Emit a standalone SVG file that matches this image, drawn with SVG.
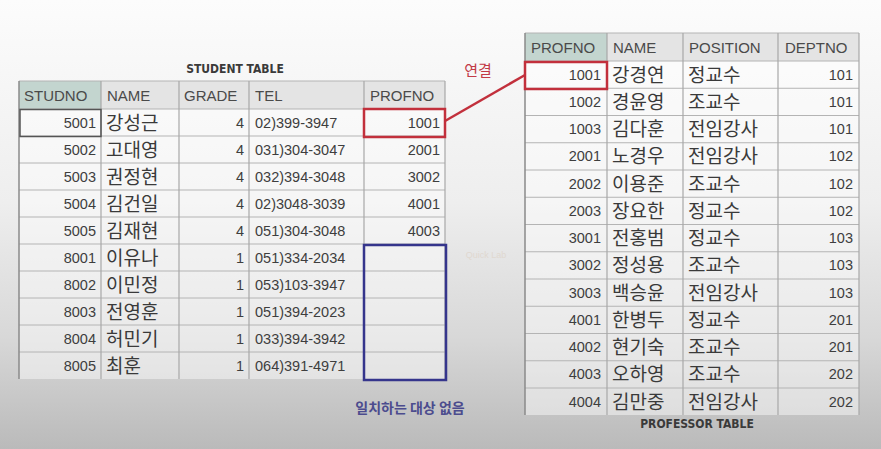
<svg xmlns="http://www.w3.org/2000/svg" width="881" height="449" viewBox="0 0 881 449">
<defs>
<linearGradient id="bg" x1="0" y1="0" x2="0" y2="1">
<stop offset="0" stop-color="#fcfcfc"/>
<stop offset="0.45" stop-color="#eeeeee"/>
<stop offset="0.75" stop-color="#d8d8d8"/>
<stop offset="1" stop-color="#bababa"/>
</linearGradient>
<style>
.cell{fill:#ffffff;fill-opacity:0.45}
.hd{fill:#e4e4e4}
.hdk{fill:#c3d5cf}
.gl{stroke:#b4b4b4;stroke-width:1;fill:none}
.gv{stroke:#a8a8a8;stroke-width:1.2;fill:none}
.edge{stroke:#8a8a8a;stroke-width:1.5;fill:none}
.h{font-family:"Liberation Sans",Arial,sans-serif;font-size:15px;fill:#4a4a4a}
.n{font-family:"Liberation Sans",Arial,sans-serif;font-size:14.5px;fill:#3e3e3e}
.nr{font-family:"Liberation Sans",Arial,sans-serif;font-size:14.5px;fill:#3e3e3e;text-anchor:end}
.k{font-family:"Noto Sans CJK KR","Noto Sans",sans-serif;font-size:19px;fill:#3a3a3a}
.title{font-family:"DejaVu Sans Condensed","Liberation Sans",sans-serif;font-weight:bold;font-size:12px;fill:#3a3a3a;text-anchor:middle}
.red{stroke:#c2303c;stroke-width:2.5;fill:none}
.blue{stroke:#35358c;stroke-width:2.5;fill:none}
</style>
</defs>
<rect x="0" y="0" width="881" height="449" fill="url(#bg)"/>

<g id="student-table">
<text class="title" x="235" y="73">STUDENT TABLE</text>
<rect class="cell" x="19" y="109" width="426" height="270"/>
<rect class="hdk" x="19" y="81" width="82" height="28"/>
<rect class="hd" x="101" y="81" width="344" height="28"/>
<path class="gl" d="M19 81H445M19 109H445M19 136H445M19 163H445M19 190H445M19 217H445M19 244H445M19 271H445M19 298H445M19 325H445M19 352H445"/>
<path class="gv" d="M101 81V379M179 81V379M249 81V379M364 81V379M445 81V379"/>
<path class="edge" d="M19 81V379"/>
<rect x="20" y="109.5" width="81" height="27" fill="none" stroke="#555" stroke-width="1.5"/>
<text class="h" x="24" y="100.5">STUDNO</text>
<text class="h" x="107" y="100.5">NAME</text>
<text class="h" x="184" y="100.5">GRADE</text>
<text class="h" x="255" y="100.5">TEL</text>
<text class="h" x="370" y="100.5">PROFNO</text>
<g class="nr">
<text x="96" y="127.5">5001</text><text x="96" y="154.5">5002</text><text x="96" y="181.5">5003</text><text x="96" y="208.5">5004</text><text x="96" y="235.5">5005</text>
<text x="96" y="262.5">8001</text><text x="96" y="289.5">8002</text><text x="96" y="316.5">8003</text><text x="96" y="343.5">8004</text><text x="96" y="370.5">8005</text>
<text x="244" y="127.5">4</text><text x="244" y="154.5">4</text><text x="244" y="181.5">4</text><text x="244" y="208.5">4</text><text x="244" y="235.5">4</text>
<text x="244" y="262.5">1</text><text x="244" y="289.5">1</text><text x="244" y="316.5">1</text><text x="244" y="343.5">1</text><text x="244" y="370.5">1</text>
<text x="440" y="127.5">1001</text><text x="440" y="154.5">2001</text><text x="440" y="181.5">3002</text><text x="440" y="208.5">4001</text><text x="440" y="235.5">4003</text>
</g>
<g class="n">
<text x="255" y="127.5">02)399-3947</text><text x="255" y="154.5">031)304-3047</text><text x="255" y="181.5">032)394-3048</text><text x="255" y="208.5">02)3048-3039</text><text x="255" y="235.5">051)304-3048</text>
<text x="255" y="262.5">051)334-2034</text><text x="255" y="289.5">053)103-3947</text><text x="255" y="316.5">051)394-2023</text><text x="255" y="343.5">033)394-3942</text><text x="255" y="370.5">064)391-4971</text>
</g>
<g class="k">
<text x="106" y="129.5">강성근</text><text x="106" y="156.5">고대영</text><text x="106" y="183.5">권정현</text><text x="106" y="210.5">김건일</text><text x="106" y="237.5">김재현</text>
<text x="106" y="264.5">이유나</text><text x="106" y="291.5">이민정</text><text x="106" y="318.5">전영훈</text><text x="106" y="345.5">허민기</text><text x="106" y="372.5">최훈</text>
</g>
</g>

<g id="professor-table">
<rect class="cell" x="525" y="61" width="334" height="354"/>
<rect class="hdk" x="525" y="33" width="82" height="28"/>
<rect class="hd" x="607" y="33" width="252" height="28"/>
<path class="gl" d="M525 33H859M525 61H859M525 88.25H859M525 115.5H859M525 142.75H859M525 170H859M525 197.25H859M525 224.5H859M525 251.75H859M525 279H859M525 306.25H859M525 333.5H859M525 360.75H859M525 388H859"/>
<path class="gv" d="M607 33V415M683 33V415M778 33V415M859 33V415"/>
<path class="edge" d="M525 33V415"/>
<text class="h" x="531" y="52.5">PROFNO</text>
<text class="h" x="613" y="52.5">NAME</text>
<text class="h" x="689" y="52.5">POSITION</text>
<text class="h" x="785" y="52.5">DEPTNO</text>
<g class="nr">
<text x="601" y="79.6">1001</text><text x="601" y="106.9">1002</text><text x="601" y="134.1">1003</text><text x="601" y="161.4">2001</text><text x="601" y="188.6">2002</text><text x="601" y="215.9">2003</text><text x="601" y="243.1">3001</text><text x="601" y="270.4">3002</text><text x="601" y="297.6">3003</text><text x="601" y="324.9">4001</text><text x="601" y="352.1">4002</text><text x="601" y="379.4">4003</text><text x="601" y="406.6">4004</text>
<text x="853" y="79.6">101</text><text x="853" y="106.9">101</text><text x="853" y="134.1">101</text><text x="853" y="161.4">102</text><text x="853" y="188.6">102</text><text x="853" y="215.9">102</text><text x="853" y="243.1">103</text><text x="853" y="270.4">103</text><text x="853" y="297.6">103</text><text x="853" y="324.9">201</text><text x="853" y="352.1">201</text><text x="853" y="379.4">202</text><text x="853" y="406.6">202</text>
</g>
<g class="k">
<text x="612" y="81.6">강경연</text><text x="612" y="108.9">경윤영</text><text x="612" y="136.1">김다훈</text><text x="612" y="163.4">노경우</text><text x="612" y="190.6">이용준</text><text x="612" y="217.9">장요한</text><text x="612" y="245.1">전홍범</text><text x="612" y="272.4">정성용</text><text x="612" y="299.6">백승윤</text><text x="612" y="326.9">한병두</text><text x="612" y="354.1">현기숙</text><text x="612" y="381.4">오하영</text><text x="612" y="408.6">김만중</text>
<text x="688" y="81.6">정교수</text><text x="688" y="108.9">조교수</text><text x="688" y="136.1">전임강사</text><text x="688" y="163.4">전임강사</text><text x="688" y="190.6">조교수</text><text x="688" y="217.9">정교수</text><text x="688" y="245.1">정교수</text><text x="688" y="272.4">조교수</text><text x="688" y="299.6">전임강사</text><text x="688" y="326.9">정교수</text><text x="688" y="354.1">조교수</text><text x="688" y="381.4">조교수</text><text x="688" y="408.6">전임강사</text>
</g>
<text class="title" x="697" y="428">PROFESSOR TABLE</text>
</g>

<g id="match-left"><rect class="red" x="364" y="109" width="81" height="28"/></g>
<g id="match-right"><rect class="red" x="525" y="62" width="82" height="27"/></g>
<g id="no-match"><rect class="blue" x="364" y="245" width="82" height="135"/></g>

<g id="connectors">
<line class="red" x1="445" y1="121" x2="525" y2="75"/>
</g>

<g id="labels">
<text x="478" y="76" text-anchor="middle" style="font-family:'Noto Sans CJK KR',sans-serif;font-size:15px;fill:#c23a46">연결</text>
<text x="410" y="413" text-anchor="middle" style="font-family:'Noto Sans CJK KR',sans-serif;font-size:14px;font-weight:bold;fill:#4c4c8e">일치하는 대상 없음</text>
<text x="486" y="258" text-anchor="middle" style="font-family:'Liberation Sans',sans-serif;font-size:9px;fill:#e0d8d0">Quick Lab</text>
</g>
</svg>
